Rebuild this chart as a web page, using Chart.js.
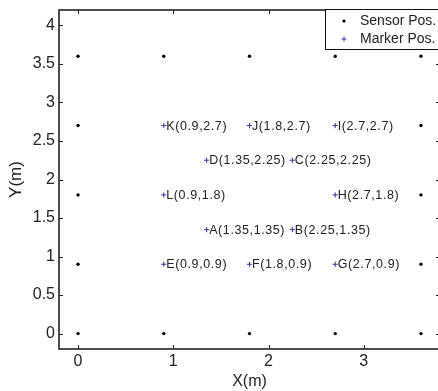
<!DOCTYPE html>
<html><head><meta charset="utf-8">
<script src="https://cdn.jsdelivr.net/npm/chart.js@4/dist/chart.umd.min.js"></script>
<style>html,body{margin:0;padding:0;overflow:hidden;background:#fff}#wrap{width:450px;height:391px}</style>
</head><body><div id="wrap"><canvas id="c" width="450" height="391"></canvas></div>
<script>
const sensorX=[0,0.9,1.8,2.7,3.6,0,3.6,0,3.6,0,3.6,0,0.9,1.8,2.7,3.6];
const sensorY=[0,0,0,0,0,0.9,0.9,1.8,1.8,2.7,2.7,3.6,3.6,3.6,3.6,3.6];
const markerNames=['K','J','I','D','C','L','H','A','B','E','F','G'];
const markerX=[0.9,1.8,2.7,1.35,2.25,0.9,2.7,1.35,2.25,0.9,1.8,2.7];
const markerY=[2.7,2.7,2.7,2.25,2.25,1.8,1.8,1.35,1.35,0.9,0.9,0.9];
const xTicks=[0,1,2,3];
const yTicks=[0,0.5,1,1.5,2,2.5,3,3.5,4];
const legendLabels=['Sensor Pos.','Marker Pos.'];
const FONT='"Liberation Sans", Arial, sans-serif';
const AXC='#222';
const MARKC='#3535a8';

const framePlugin={
  id:'frame',
  afterDatasetsDraw(chart){
    const {ctx,chartArea:a,scales:{x,y}}=chart;
    ctx.save();
    ctx.strokeStyle=AXC;
    ctx.lineWidth=1;
    const tl=4;
    ctx.beginPath();
    xTicks.forEach(v=>{const px=Math.round(x.getPixelForValue(v))+0.5;
      ctx.moveTo(px,a.bottom);ctx.lineTo(px,a.bottom-tl);
      ctx.moveTo(px,a.top);ctx.lineTo(px,a.top+tl);});
    yTicks.forEach(v=>{const py=Math.round(y.getPixelForValue(v))+0.5;
      ctx.moveTo(a.left,py);ctx.lineTo(a.left+tl,py);
      ctx.moveTo(a.right,py);ctx.lineTo(a.right-tl,py);});
    ctx.stroke();
    ctx.lineWidth=1.6;
    ctx.strokeRect(a.left,a.top,a.right-a.left,a.bottom-a.top);
    // labels
    ctx.fillStyle='#222';
    ctx.font='12.5px '+FONT;
    ctx.letterSpacing='0.6px';
    ctx.textBaseline='middle';
    ctx.textAlign='left';
    markerNames.forEach((n,i)=>{
      const px=x.getPixelForValue(markerX[i]), py=y.getPixelForValue(markerY[i]);
      ctx.fillText(n+'('+markerX[i]+','+markerY[i]+')',px+2.5,py+0.5);
    });
    ctx.letterSpacing='0px';
    // legend
    const lx=325.5, ly=9.5, lw=125, lh=40;
    ctx.fillStyle='#fff';
    ctx.fillRect(lx,ly,lw,lh);
    ctx.lineWidth=1;
    ctx.strokeStyle='#111';
    ctx.strokeRect(lx,ly,lw,lh);
    ctx.fillStyle='#000';
    ctx.beginPath();ctx.arc(344,21,1.6,0,Math.PI*2);ctx.fill();
    ctx.strokeStyle=MARKC;
    ctx.beginPath();ctx.moveTo(341.5,39);ctx.lineTo(346.5,39);ctx.moveTo(344,36.5);ctx.lineTo(344,41.5);ctx.stroke();
    ctx.fillStyle='#222';
    ctx.font='14px '+FONT;
    ctx.fillText(legendLabels[0],360,21);
    ctx.fillText(legendLabels[1],360,39);
    ctx.restore();
  }
};

new Chart(document.getElementById('c'),{
  type:'scatter',
  data:{datasets:[
    {label:legendLabels[0],data:sensorX.map((v,i)=>({x:v,y:sensorY[i]})),
     pointStyle:'circle',pointRadius:1.7,backgroundColor:'#000',borderColor:'#000',borderWidth:0},
    {label:legendLabels[1],data:markerX.map((v,i)=>({x:v,y:markerY[i]})),
     pointStyle:'cross',pointRadius:2.6,borderColor:MARKC,backgroundColor:MARKC,borderWidth:1}
  ]},
  options:{
    responsive:false,animation:false,devicePixelRatio:1,
    layout:{padding:{left:0,top:10,right:10,bottom:0}},
    plugins:{legend:{display:false},tooltip:{enabled:false}},
    scales:{
      x:{type:'linear',min:-0.2,max:3.8,
        afterBuildTicks:s=>{s.ticks=xTicks.map(v=>({value:v}));},
        afterFit:s=>{s.height=42;s.paddingLeft=0;s.paddingRight=0;},
        grid:{display:false,drawTicks:false},border:{display:false},
        ticks:{font:{family:FONT,size:16},color:AXC,padding:3,maxRotation:0,callback:v=>String(v)},
        title:{display:true,text:'X(m)',font:{family:FONT,size:16},color:AXC,padding:{top:0,bottom:0}}},
      y:{type:'linear',min:-0.2,max:4.2,
        afterBuildTicks:s=>{s.ticks=yTicks.map(v=>({value:v}));},
        afterFit:s=>{s.width=59;s.paddingTop=0;s.paddingBottom=0;},
        grid:{display:false,drawTicks:false},border:{display:false},
        ticks:{font:{family:FONT,size:16},color:AXC,padding:4,callback:v=>String(v)},
        title:{display:true,text:'Y(m)',font:{family:FONT,size:17},color:AXC,padding:{top:6,bottom:0}}}
    }
  },
  plugins:[framePlugin]
});
</script></body></html>
